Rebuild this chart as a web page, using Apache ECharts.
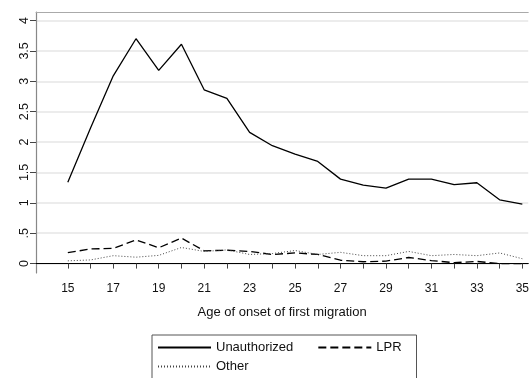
<!DOCTYPE html>
<html>
<head>
<meta charset="utf-8">
<script src="https://cdn.jsdelivr.net/npm/echarts@6/dist/echarts.min.js"></script>
<style>
  html, body { margin: 0; padding: 0; background: #fff; }
  #chart { width: 532px; height: 378px; }
</style>
</head>
<body>
<div id="chart"></div>
<script>
// Age of onset of first migration
const ages = [15,16,17,18,19,20,21,22,23,24,25,26,27,28,29,30,31,32,33,34,35];

const unauthorized = [1.34,2.23,3.09,3.70,3.18,3.61,2.86,2.72,2.16,1.94,1.80,1.68,1.39,1.29,1.24,1.39,1.39,1.30,1.33,1.05,0.98];
const lpr          = [0.18,0.24,0.25,0.39,0.26,0.42,0.21,0.22,0.20,0.15,0.175,0.15,0.055,0.03,0.04,0.10,0.05,0.015,0.035,0.0,0.0];
const other        = [0.045,0.06,0.13,0.105,0.135,0.265,0.20,0.225,0.15,0.165,0.215,0.15,0.185,0.13,0.13,0.20,0.13,0.15,0.13,0.175,0.08];

const xTicks = ages;
const xLabels = [15,17,19,21,23,25,27,29,31,33,35];
const yTicks = [0,0.5,1,1.5,2,2.5,3,3.5,4];

const font = 'Liberation Sans, Arial, sans-serif';
const pairs = arr => ages.map((a, i) => [a, arr[i]]);

const legendCommon = {
  orient: 'horizontal',
  itemWidth: 53,
  itemHeight: 4,
  itemGap: 24,
  textStyle: { fontFamily: font, fontSize: 13, color: '#111' },
  itemStyle: { opacity: 0 }
};

const chart = echarts.init(document.getElementById('chart'), null, { renderer: 'canvas' });

chart.setOption({
  animation: false,
  backgroundColor: '#fff',
  grid: { left: 36, right: 0, top: 12, bottom: 105, containLabel: false },
  xAxis: [{
    type: 'value',
    min: 13.6,
    max: 35.26,
    name: 'Age of onset of first migration',
    nameLocation: 'middle',
    nameGap: 33,
    nameTextStyle: { fontFamily: font, fontSize: 13, color: '#111' },
    axisLine: { show: true, lineStyle: { color: '#000', width: 1.2 } },
    axisTick: { show: true, length: 5, customValues: xTicks, lineStyle: { color: '#444' } },
    axisLabel: { customValues: xLabels, fontFamily: font, fontSize: 12, color: '#111', margin: 10 },
    splitLine: { show: false }
  }, {
    type: 'value',
    position: 'top',
    min: 13.6,
    max: 35.26,
    axisLine: { show: true, lineStyle: { color: '#aaa', width: 1 } },
    axisTick: { show: false },
    axisLabel: { show: false },
    splitLine: { show: false }
  }],
  yAxis: {
    type: 'value',
    min: -0.155,
    max: 4.14,
    axisLine: { show: true, lineStyle: { color: '#888', width: 1.2 } },
    axisTick: { show: true, length: 6, customValues: yTicks, lineStyle: { color: '#444' } },
    axisLabel: {
      customValues: yTicks,
      rotate: 90,
      fontFamily: font, fontSize: 12.5, color: '#111', margin: 5,
      formatter: v => (v === 0 ? '0' : String(v).replace(/^0\./, '.'))
    },
    splitLine: { show: true, lineStyle: { color: '#e6e6e6', width: 1.5 } }
  },
  legend: [
    Object.assign({}, legendCommon, {
      left: 152,
      top: 335,
      padding: [6, 0, 0, 5],
      data: ['Unauthorized', 'LPR']
    }),
    Object.assign({}, legendCommon, {
      left: 152,
      top: 335,
      padding: [25, 168, 8, 5],
      borderColor: '#555',
      borderWidth: 1,
      data: ['Other']
    })
  ],
  series: [{
    name: 'Unauthorized',
    type: 'line',
    data: pairs(unauthorized),
    symbol: 'none',
    lineStyle: { color: '#000', width: 1.3, type: 'solid' },
    itemStyle: { color: '#000' }
  }, {
    name: 'LPR',
    type: 'line',
    data: pairs(lpr),
    symbol: 'none',
    lineStyle: { color: '#000', width: 1.3, type: [8, 4] },
    itemStyle: { color: '#000' }
  }, {
    name: 'Other',
    type: 'line',
    data: pairs(other),
    symbol: 'none',
    lineStyle: { color: '#444', width: 1, type: [1, 2] },
    itemStyle: { color: '#444' }
  }]
});
</script>
</body>
</html>
